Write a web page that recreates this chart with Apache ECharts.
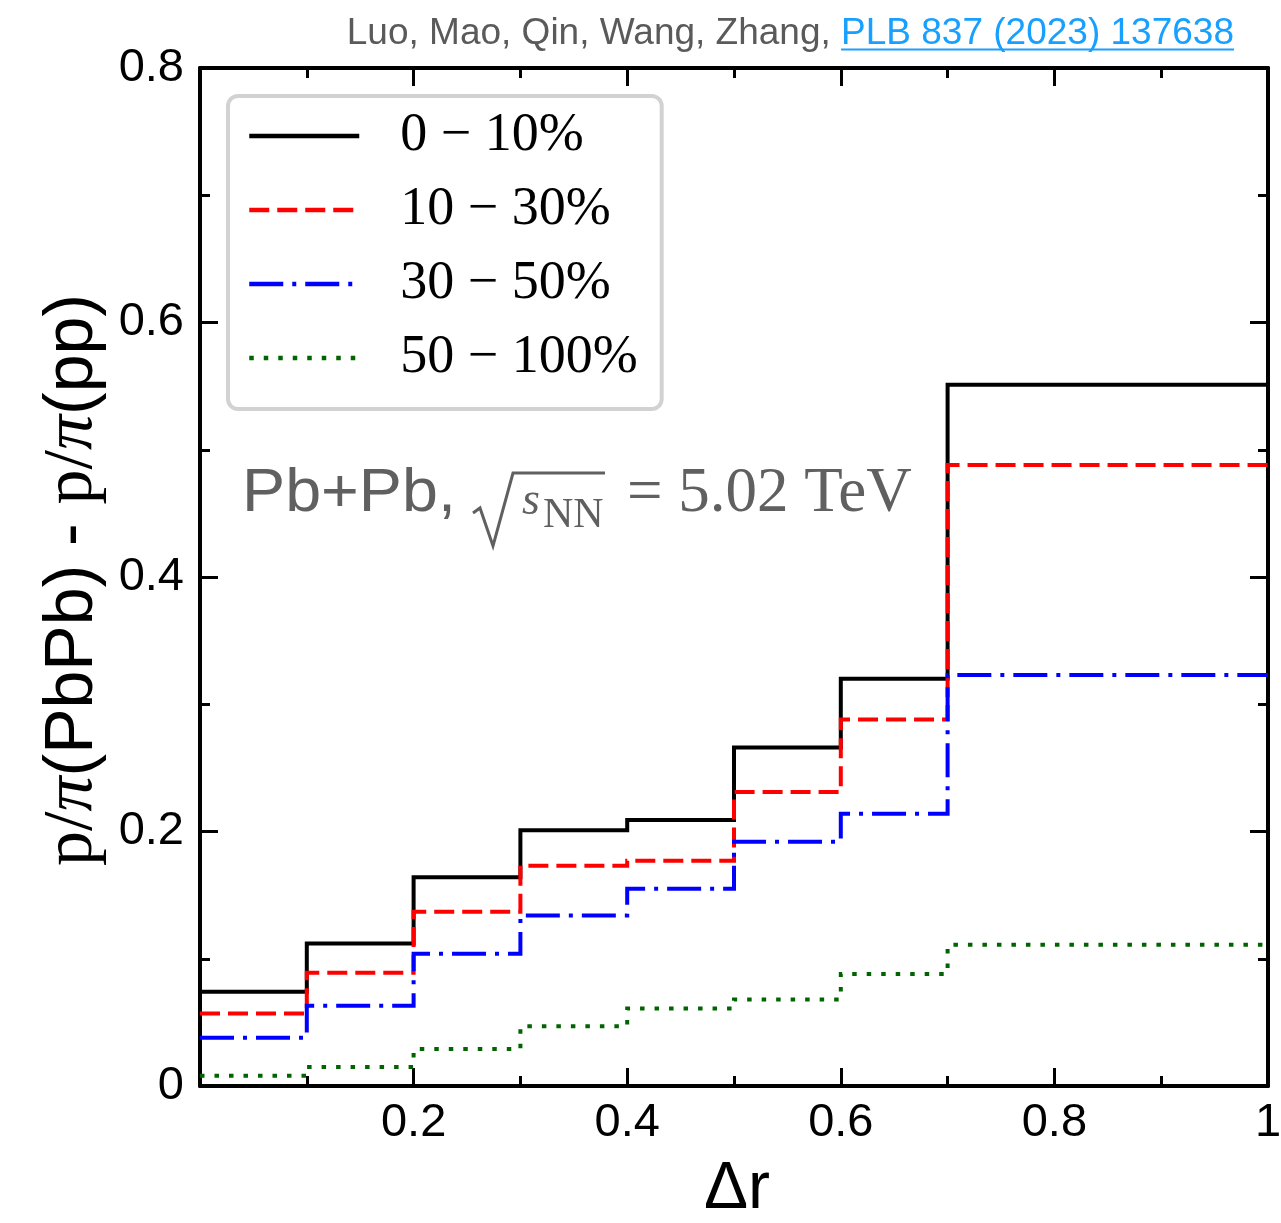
<!DOCTYPE html>
<html>
<head>
<meta charset="utf-8">
<script src="https://cdn.jsdelivr.net/npm/echarts@6/dist/echarts.min.js"></script>
<style>
  html, body { margin: 0; padding: 0; background: #fff; }
  #chart { width: 1281px; height: 1223px; }
</style>
</head>
<body>
<div id="chart"></div>
<script>
// Bin edges in Δr (last bin spans 0.7–1.0)
const binEdges = [0, 0.1, 0.2, 0.3, 0.4, 0.5, 0.6, 0.7, 1.0];

// p/π(PbPb) - p/π(pp) per Δr bin, one array per centrality class
const cent0_10   = [0.074, 0.112, 0.164, 0.201, 0.209, 0.266, 0.320, 0.551];
const cent10_30  = [0.057, 0.089, 0.137, 0.173, 0.177, 0.231, 0.288, 0.488];
const cent30_50  = [0.038, 0.063, 0.104, 0.134, 0.155, 0.192, 0.214, 0.323];
const cent50_100 = [0.008, 0.015, 0.029, 0.047, 0.061, 0.068, 0.088, 0.111];

const seriesNames = ['0 − 10%', '10 − 30%', '30 − 50%', '50 − 100%'];

// Tick labels
const xTickValues = [0.2, 0.4, 0.6, 0.8, 1.0];
const xTickLabels = ['0.2', '0.4', '0.6', '0.8', '1'];
const yTickValues = [0, 0.2, 0.4, 0.6, 0.8];
const yTickLabels = ['0', '0.2', '0.4', '0.6', '0.8'];

const SANS = '"Liberation Sans", Arial, Helvetica, sans-serif';
const SERIF = '"Liberation Serif", "Times New Roman", serif';

// Histogram outline: each bin value held from its left edge to the next edge
function toSteps(vals) {
  return binEdges.map((x, i) => [x, vals[Math.min(i, vals.length - 1)]]);
}

function labelFor(values, labels) {
  return function (v) {
    for (let i = 0; i < values.length; i++) {
      if (Math.abs(values[i] - v) < 1e-6) return labels[i];
    }
    return '';
  };
}

function frameAxis(kind, position, showLabel) {
  const isX = kind === 'x';
  return {
    type: 'value',
    position: position,
    min: 0,
    max: isX ? 1 : 0.8,
    interval: 0.2,
    axisLine: { show: true, onZero: false, lineStyle: { color: '#000', width: 4 } },
    axisTick: { show: true, inside: true, length: 18, lineStyle: { color: '#000', width: 3 } },
    minorTick: { show: true, splitNumber: 2, length: 10, lineStyle: { color: '#000', width: 3 } },
    splitLine: { show: false },
    minorSplitLine: { show: false },
    axisLabel: {
      show: showLabel,
      margin: isX ? 14 : 16,
      fontSize: 47,
      fontFamily: SANS,
      color: '#000',
      showMinLabel: true,
      showMaxLabel: true,
      formatter: isX ? labelFor(xTickValues, xTickLabels) : labelFor(yTickValues, yTickLabels)
    }
  };
}

function histSeries(name, vals, color, dash, z) {
  return {
    type: 'line',
    name: name,
    data: toSteps(vals),
    step: 'end',
    symbol: 'none',
    showSymbol: false,
    clip: true,
    z: z,
    itemStyle: { color: color },
    lineStyle: { color: color, width: 4, type: dash, cap: 'butt', join: 'miter' },
    emphasis: { disabled: true }
  };
}

// Width of the journal reference, used to place its underline
function textWidth(str, font) {
  const ctx = document.createElement('canvas').getContext('2d');
  ctx.font = font;
  return ctx.measureText(str).width;
}
const refText = 'PLB 837 (2023) 137638';
const refRight = 1234;
const refWidth = textWidth(refText, '37px "Liberation Sans"');

const chart = echarts.init(document.getElementById('chart'), null, { renderer: 'canvas' });

const option = {
  animation: false,
  backgroundColor: '#fff',
  grid: { left: 200, right: 13, top: 68, bottom: 137, containLabel: false, outerBoundsMode: 'none' },
  xAxis: [frameAxis('x', 'bottom', true), frameAxis('x', 'top', false)],
  yAxis: [frameAxis('y', 'left', true), frameAxis('y', 'right', false)],
  legend: {
    orient: 'vertical',
    left: 228,
    top: 96,
    data: seriesNames,
    itemWidth: 110,
    itemHeight: 16,
    itemGap: 20,
    padding: [13, 24, 24, 19],
    backgroundColor: '#fff',
    borderColor: '#d2d2d2',
    borderWidth: 4,
    borderRadius: 10,
    selectedMode: false,
    lineStyle: { width: 4.5 },
    itemStyle: { opacity: 0 },
    textStyle: {
      fontFamily: SERIF,
      fontSize: 54,
      lineHeight: 54,
      color: '#000',
      padding: [0, 0, 0, 36]
    }
  },
  series: [
    histSeries(seriesNames[0], cent0_10, '#000000', 'solid', 2),
    histSeries(seriesNames[1], cent10_30, '#ff0000', [20, 8], 3),
    histSeries(seriesNames[2], cent30_50, '#0000ff', [34, 9, 4, 9], 4),
    histSeries(seriesNames[3], cent50_100, '#006400', [4.5, 10], 5)
  ],
  graphic: [
    // reference line at the top
    {
      type: 'text', x: refRight - refWidth, y: 34,
      style: { text: 'Luo, Mao, Qin, Wang, Zhang, ', font: '37px ' + SANS, fill: '#5a5a5a',
               textAlign: 'right', textVerticalAlign: 'middle' }
    },
    {
      type: 'text', x: refRight, y: 34,
      style: { text: refText, font: '37px ' + SANS, fill: '#17a0ff',
               textAlign: 'right', textVerticalAlign: 'middle' }
    },
    {
      type: 'line', shape: { x1: refRight - refWidth, y1: 49.5, x2: refRight, y2: 49.5 },
      style: { stroke: '#17a0ff', lineWidth: 2 }
    },
    // collision system label
    {
      type: 'text', x: 242, y: 494, scaleX: 1.06,
      style: { text: 'Pb+Pb,', font: '61px ' + SANS, fill: '#606060',
               textAlign: 'left', textVerticalAlign: 'middle' }
    },
    {
      type: 'polyline',
      shape: { points: [[473, 513], [480, 508], [493, 546], [513, 473], [605, 473]] },
      style: { stroke: '#606060', lineWidth: 3, fill: null, lineJoin: 'miter' }
    },
    {
      type: 'text', x: 522, y: 502,
      style: { text: 's', font: 'italic 46px ' + SERIF, fill: '#606060',
               textAlign: 'left', textVerticalAlign: 'middle' }
    },
    {
      type: 'text', x: 543, y: 516,
      style: { text: 'NN', font: '42px ' + SERIF, fill: '#606060',
               textAlign: 'left', textVerticalAlign: 'middle' }
    },
    {
      type: 'text', x: 627, y: 494,
      style: { text: '= 5.02 TeV', font: '63px ' + SERIF, fill: '#606060',
               textAlign: 'left', textVerticalAlign: 'middle' }
    },
    // y-axis title
    {
      type: 'text', x: 73, y: 580, rotation: Math.PI / 2,
      style: {
        text: '{m|p/}{mi|π}{s|(PbPb) - }{m|p/}{mi|π}{s|(pp)}',
        textAlign: 'center', textVerticalAlign: 'middle', fill: '#000',
        rich: {
          m: { fontFamily: SERIF, fontSize: 70, fill: '#000' },
          mi: { fontFamily: SERIF, fontStyle: 'italic', fontSize: 70, fill: '#000' },
          s: { fontFamily: SANS, fontSize: 68, fill: '#000' }
        }
      }
    },
    // x-axis title
    {
      type: 'text', x: 737, y: 1190,
      style: { text: 'Δr', font: '66px ' + SANS, fill: '#000',
               textAlign: 'center', textVerticalAlign: 'middle' }
    }
  ]
};

chart.setOption(option);
</script>
</body>
</html>
